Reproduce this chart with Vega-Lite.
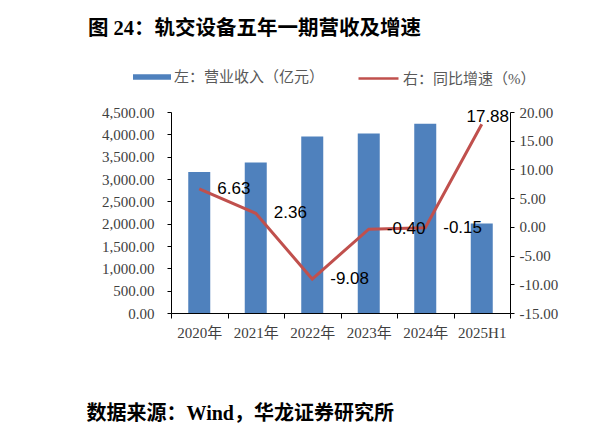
{
  "$schema": "https://vega.github.io/schema/vega-lite/v6.json",
  "autosize": "none",
  "width": 339,
  "height": 201,
  "padding": {"left": 171, "top": 112, "right": 89, "bottom": 125},
  "background": "white",
  "title": {
    "text": "图 24：轨交设备五年一期营收及增速",
    "anchor": "start",
    "frame": "group",
    "dx": -83,
    "offset": 18,
    "font": "Liberation Serif, Noto Sans CJK SC",
    "fontSize": 20.5,
    "fontWeight": "bold",
    "color": "#000000"
  },
  "data": {
    "values": [
      {"year": "2020年", "revenue": 3157, "growth": 6.63},
      {"year": "2021年", "revenue": 3372, "growth": 2.36},
      {"year": "2022年", "revenue": 3954, "growth": -9.08},
      {"year": "2023年", "revenue": 4021, "growth": -0.40},
      {"year": "2024年", "revenue": 4238, "growth": -0.15},
      {"year": "2025H1", "revenue": 2006, "growth": 17.88}
    ]
  },
  "encoding": {
    "x": {
      "field": "year",
      "type": "nominal",
      "sort": null,
      "scale": {"paddingInner": 0, "paddingOuter": 0},
      "axis": {
        "title": "数据来源：Wind，华龙证券研究所",
        "titleX": -85,
        "titleY": 100,
        "titleAlign": "left",
        "titleAnchor": "start",
        "titleBaseline": "middle",
        "titleFont": "Liberation Serif, Noto Sans CJK SC",
        "titleFontSize": 20,
        "titleFontWeight": "bold",
        "titleColor": "#000000",
        "labelAngle": 0,
        "labelFontSize": 15,
        "labelFont": "Liberation Serif, Noto Sans CJK SC",
        "labelPadding": 7,
        "tickSize": 5,
        "tickBand": "extent"
      }
    }
  },
  "layer": [
    {
      "mark": {"type": "bar", "size": 22},
      "encoding": {
        "y": {
          "field": "revenue",
          "type": "quantitative",
          "scale": {"domain": [0, 4500], "nice": false},
          "axis": {
            "orient": "left",
            "title": null,
            "values": [0, 500, 1000, 1500, 2000, 2500, 3000, 3500, 4000, 4500],
            "format": ",.2f",
            "tickSize": 4,
            "labelPadding": 13
          }
        },
        "color": {
          "datum": "左：营业收入（亿元）",
          "scale": {"range": ["#4F81BD"]},
          "legend": {
            "orient": "none",
            "legendX": -38,
            "legendY": -54,
            "title": null,
            "padding": 0,
            "symbolType": "M-1,-0.15H1V0.15H-1Z",
            "symbolSize": 1444,
            "symbolStrokeWidth": 0,
            "labelOffset": 3,
            "labelFontSize": 15,
            "labelFont": "Liberation Serif, Noto Sans CJK SC",
            "labelColor": "#595959"
          }
        }
      }
    },
    {
      "encoding": {
        "y": {
          "field": "growth",
          "type": "quantitative",
          "scale": {"domain": [-15, 20], "nice": false},
          "axis": {
            "orient": "right",
            "title": null,
            "values": [-15, -10, -5, 0, 5, 10, 15, 20],
            "format": ".2f",
            "tickSize": 4,
            "labelPadding": 5
          }
        }
      },
      "layer": [
        {
          "mark": {"type": "line", "strokeWidth": 3},
          "encoding": {
            "stroke": {
              "datum": "右：同比增速（%）",
              "scale": {"range": ["#C0504D"]},
              "legend": {
                "orient": "none",
                "legendX": 186,
                "legendY": -55,
                "title": null,
                "padding": 0,
                "symbolType": "M-1,0H1",
                "symbolSize": 1600,
                "symbolStrokeWidth": 2.5,
                "labelOffset": 3,
                "labelFontSize": 15,
                "labelFont": "Liberation Serif, Noto Sans CJK SC",
                "labelColor": "#595959"
              }
            }
          }
        },
        {
          "transform": [{"filter": "datum.year != '2025H1'"}],
          "mark": {"type": "text", "align": "left", "baseline": "middle", "dx": 18, "font": "Liberation Sans", "fontSize": 17, "color": "#000000"},
          "encoding": {"text": {"field": "growth", "type": "quantitative", "format": ".2f"}}
        },
        {
          "transform": [{"filter": "datum.year == '2025H1'"}],
          "mark": {"type": "text", "align": "center", "baseline": "middle", "dx": 6, "dy": -7, "font": "Liberation Sans", "fontSize": 17, "color": "#000000"},
          "encoding": {"text": {"field": "growth", "type": "quantitative", "format": ".2f"}}
        }
      ]
    }
  ],
  "resolve": {"scale": {"y": "independent"}},
  "config": {
    "locale": {
      "number": {
        "decimal": ".",
        "thousands": ",",
        "grouping": [3],
        "currency": ["$", ""],
        "minus": "-"
      }
    },
    "view": {"stroke": null},
    "axis": {
      "grid": false,
      "domainColor": "#000000",
      "tickColor": "#000000",
      "labelColor": "#404040",
      "labelFont": "Liberation Serif",
      "labelFontSize": 15
    }
  }
}
